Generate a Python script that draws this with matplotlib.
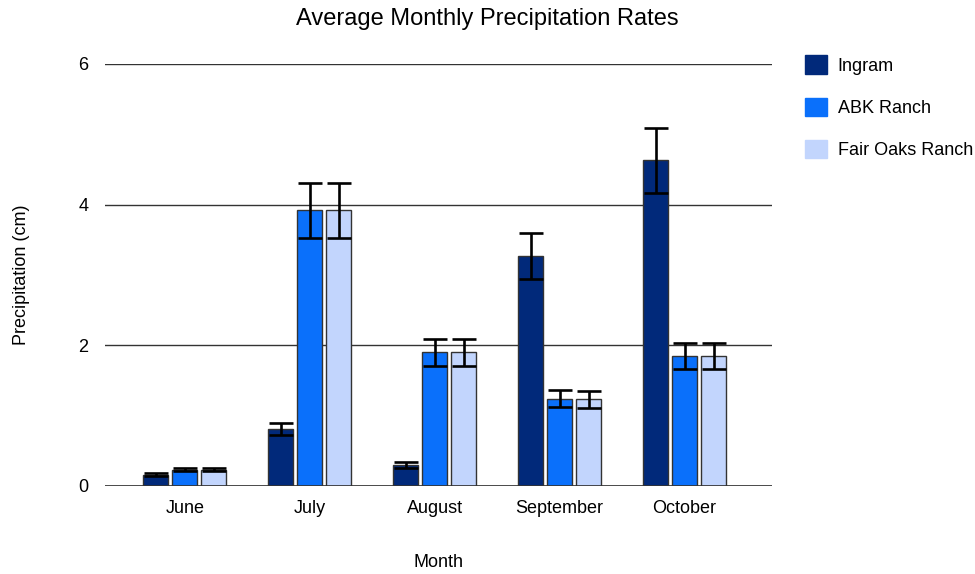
import numpy as np
import matplotlib.pyplot as plt

# monthly averages
months = ["June", "July", "August", "September", "October"]
ingram = [0.16, 0.81, 0.30, 3.27, 4.63]
abk = [0.23, 3.92, 1.90, 1.24, 1.85]
fair_oaks = [0.23, 3.92, 1.90, 1.23, 1.85]

# error bar half-lengths
ingram_err = [0.02, 0.08, 0.04, 0.33, 0.46]
abk_err = [0.02, 0.39, 0.19, 0.12, 0.19]
fair_oaks_err = [0.02, 0.39, 0.19, 0.12, 0.19]

names = ["Ingram", "ABK Ranch", "Fair Oaks Ranch"]
colors = ["#01297a", "#0a70fb", "#c2d5fd"]

plt.rcParams['font.family'] = ['Liberation Sans', 'DejaVu Sans']

fig = plt.figure(figsize=(9.75, 5.74), dpi=100)
ax = fig.add_axes([105/975, 1-486/574, 667/975, 422/574])

x = np.arange(len(months))
w = 0.2
off = 0.232
series = [(ingram, ingram_err), (abk, abk_err), (fair_oaks, fair_oaks_err)]
for i, (vals, errs) in enumerate(series):
    xs = x + (i-1)*off
    ax.bar(xs, vals, w, color=colors[i], edgecolor="#333333", linewidth=1,
           label=names[i], zorder=3)
    ax.errorbar(xs, vals, yerr=errs, fmt='none', ecolor='black', elinewidth=1.9,
                capsize=8.5, capthick=1.9, zorder=4)

ax.set_xlim(-0.64, 4.7)
ax.set_ylim(0, 6)
ax.set_yticks([0, 2, 4, 6])
ax.yaxis.grid(True, color="#333333", linewidth=1, zorder=0)
ax.axhline(0, color="#333333", linewidth=1.2, zorder=5)
ax.set_xticks(x)
ax.set_xticklabels(months)
ax.tick_params(axis='both', length=0, labelsize=13)
ax.tick_params(axis='x', pad=10)
ax.tick_params(axis='y', pad=12)
for s in ax.spines.values():
    s.set_visible(False)

ax.set_xlabel("Month", fontsize=13, labelpad=27)
ax.set_ylabel("Precipitation (cm)", fontsize=13, labelpad=35)
fig.suptitle("Average Monthly Precipitation Rates", fontsize=17, y=0.986)

handles = [plt.Rectangle((0, 0), 1, 1, color=c) for c in colors]
fig.legend(handles, names, loc='upper left', bbox_to_anchor=(798/975, 1-48/574),
           frameon=False, fontsize=13, handlelength=1.2, handleheight=1.2,
           labelspacing=1.27, handletextpad=0.6, borderaxespad=0)

fig.savefig("out.png", dpi=100)
